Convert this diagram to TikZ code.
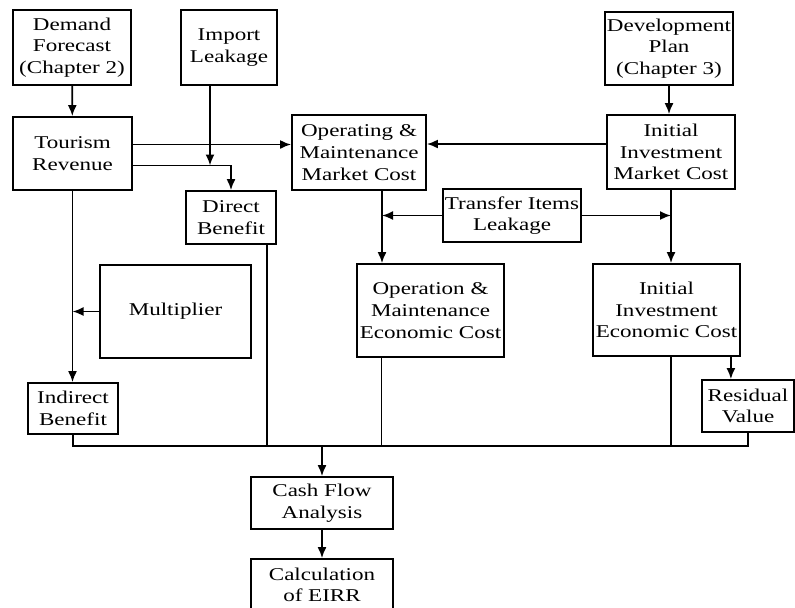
\documentclass[tikz,border=0pt]{standalone}
\usepackage{fontspec}
\setmainfont{Liberation Serif}[FakeStretch=1.28]
\usetikzlibrary{arrows.meta}

\begin{document}
\begin{tikzpicture}[x = 0.5pt, y = -0.5pt, font = \fontsize{9}{10.8}\selectfont,
        box/.style = {draw, line width = 0.9pt, align = center, inner sep = 1pt},
        arr/.style = {line width = 0.9pt, -{Latex[length = 5.5pt, width = 4.5pt]}},
        wire/.style = {line width = 0.9pt}]
        \useasboundingbox (0,0) rectangle (795,607);
        \node [box, minimum width = 59pt, minimum height = 37.5pt] (1-1) at (72,47.5) {Demand\\Forecast\\(Chapter 2)};
        \node [box, minimum width = 48pt, minimum height = 37.5pt] (1-2) at (229,47.5) {Import\\Leakage};
        \node [box, minimum width = 64pt, minimum height = 36.5pt] (1-3) at (669,48.5) {Development\\Plan\\(Chapter 3)};
        \node [box, minimum width = 59.5pt, minimum height = 36.5pt] (2-1) at (72.5,153.5) {Tourism\\Revenue};
        \node [box, minimum width = 67pt, minimum height = 37.5pt] (2-2) at (359,152.5) {Operating \&\\Maintenance\\Market Cost};
        \node [box, minimum width = 64pt, minimum height = 37pt] (2-3) at (671,152) {Initial\\Investment\\Market Cost};
        \node [box, minimum width = 45pt, minimum height = 26.5pt] (3-1) at (231,217.5) {Direct\\Benefit};
        \node [box, minimum width = 69pt, minimum height = 26.5pt] (3-2) at (512,215.5) {Transfer Items\\Leakage};
        \node [box, minimum width = 75.5pt, minimum height = 46.5pt] (4-1) at (175.5,311.5) {Multiplier};
        \node [box, minimum width = 73.5pt, minimum height = 46.5pt] (4-2) at (430.5,310.5) {Operation \&\\Maintenance\\Economic Cost};
        \node [box, minimum width = 73.5pt, minimum height = 46pt] (4-3) at (666.5,310) {Initial\\Investment\\Economic Cost};
        \node [box, minimum width = 45pt, minimum height = 25.5pt] (5-1) at (73,408.5) {Indirect\\Benefit};
        \node [box, minimum width = 46pt, minimum height = 26pt] (5-2) at (748,406) {Residual\\Value};
        \node [box, minimum width = 71pt, minimum height = 26pt] (6-1) at (322,503) {Cash Flow\\Analysis};
        \node [box, minimum width = 71pt, minimum height = 26pt] (7-1) at (322,585) {Calculation\\of EIRR};
        % points where the lines leave the boxes off centre
        \coordinate (r-hi) at ([yshift=4.5pt]2-1.east);
        \coordinate (r-lo) at ([yshift=-6pt]2-1.east);
        \coordinate (imp) at ([xshift=-9.5pt]1-2.south);
        \coordinate (inv) at ([yshift=4pt]2-3.west);
        \coordinate (om) at ([xshift=11.5pt]2-2.south);
        \coordinate (res) at ([xshift=-5pt]4-3.south east);
        \coordinate (db) at ([xshift=-5pt]3-1.south east);
        \coordinate (oe) at ([xshift=-24.5pt]4-2.south);
        \coordinate (bus) at (0,446);
        \draw [arr] (1-1) -- (2-1);
        \draw [arr] (1-3.south) -- (1-3.south |- 2-3.north);
        \draw [arr] (r-hi) -- (r-hi -| 2-2.west);
        \draw [arr] (r-lo) -| (3-1.north);
        \draw [arr] (imp) -- (imp |- r-lo);
        \draw [arr] (inv) -- (inv -| 2-2.east);
        \draw [arr] (om) -- (om |- 4-2.north);
        \draw [arr] (2-3.south) -- (2-3.south |- 4-3.north);
        \draw [arr] (3-2.west) -- (3-2.west -| om);
        \draw [arr] (3-2.east) -- (3-2.east -| 2-3.south);
        \draw [arr] (2-1.south) -- (2-1.south |- 5-1.north);
        \draw [arr] (4-1.west) -- (4-1.west -| 2-1.south);
        \draw [arr] (res) -- (res |- 5-2.north);
        \draw [wire] (5-1.south) |- (bus -| 5-2.south) -- (5-2.south);
        \draw [wire] (db) -- (db |- bus) (oe) -- (oe |- bus) (2-3.south |- 4-3.south) -- (2-3.south |- bus);
        \draw [arr] (6-1.north |- bus) -- (6-1.north);
        \draw [arr] (6-1) -- (7-1);
    \end{tikzpicture}
\end{document}
